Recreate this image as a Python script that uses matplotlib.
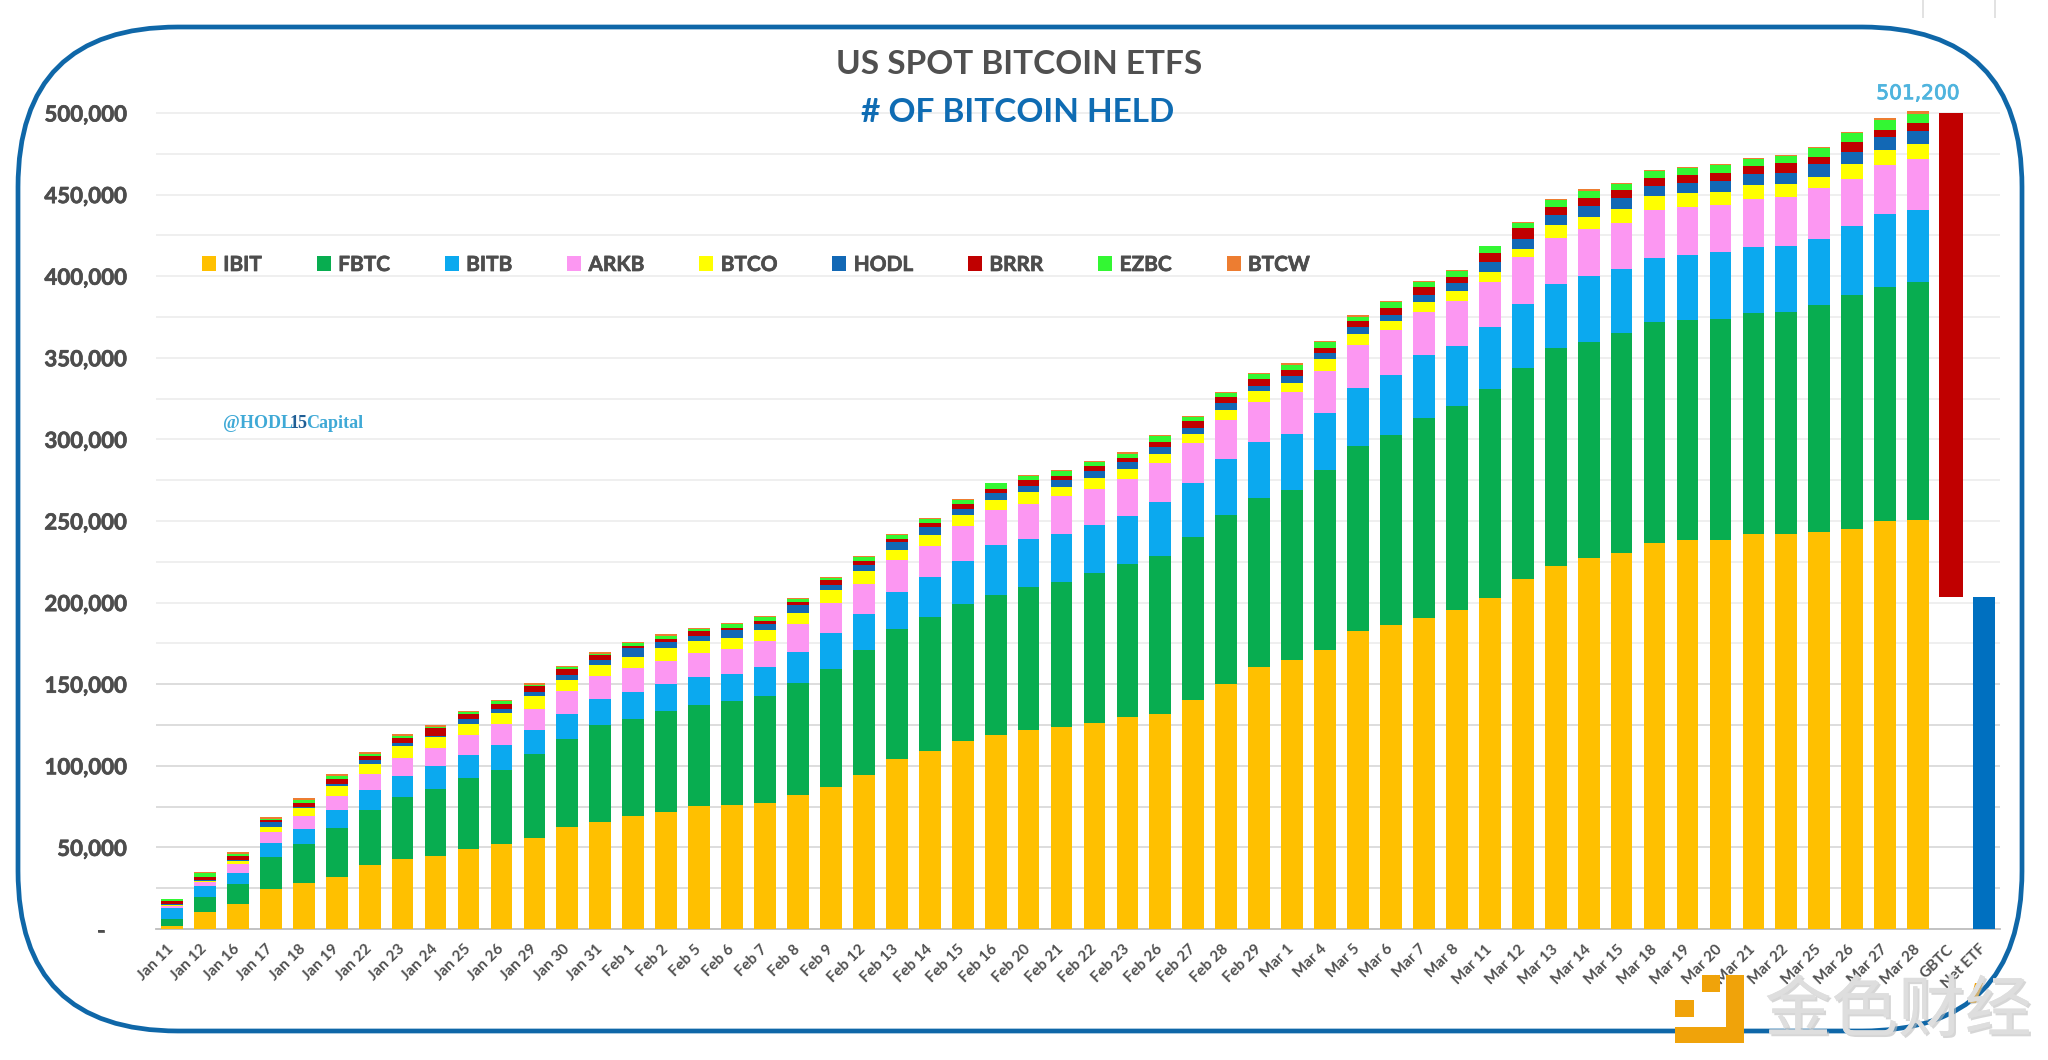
import numpy as np
import matplotlib
matplotlib.use("Agg")
import matplotlib.pyplot as plt
import matplotlib.patheffects as pe
from matplotlib.patches import FancyBboxPatch, Rectangle, Polygon

dates = ["Jan 11","Jan 12","Jan 16","Jan 17","Jan 18","Jan 19","Jan 22","Jan 23","Jan 24","Jan 25","Jan 26",
         "Jan 29","Jan 30","Jan 31","Feb 1","Feb 2","Feb 5","Feb 6","Feb 7","Feb 8","Feb 9","Feb 12","Feb 13",
         "Feb 14","Feb 15","Feb 16","Feb 20","Feb 21","Feb 22","Feb 23","Feb 26","Feb 27","Feb 28","Feb 29",
         "Mar 1","Mar 4","Mar 5","Mar 6","Mar 7","Mar 8","Mar 11","Mar 12","Mar 13","Mar 14","Mar 15","Mar 18",
         "Mar 19","Mar 20","Mar 21","Mar 22","Mar 25","Mar 26","Mar 27","Mar 28"]
extra_labels = ["GBTC", "Net ETF"]

# Running stack totals, thousand BTC (top edge of each fund's segment)
ibit = [2.0,10.6,15.5,24.6,28.4,32.1,39.3,43,45,48.9,51.8,55.7,62.4,65.5,69.4,71.4,75.1,76.1,77.1,82,86.8,94.5,
        104.3,109.3,115,118.9,121.9,124,126,129.7,131.6,140.4,150.2,160.5,165,171,182.5,186.4,190.5,195.2,203,
        214.6,222.4,227.5,230.4,236.3,238.2,238.2,242,242,243,244.9,250,250.8]
fbtc = [6.1,19.8,27.4,44.4,52.2,62,73.2,80.8,85.7,92.5,97.6,107,116.2,124.8,128.9,133.4,137.5,139.5,143,151,159.4,
        171,183.9,191.1,198.9,204.4,209.5,212.6,218,223.5,228.3,240.2,253.5,264.3,268.8,281.1,295.9,302.6,313.4,
        320.4,330.6,343.5,355.8,359.9,365.4,372,373.2,373.8,377.3,378.3,382.6,388.5,393.2,396.5]
bitb = [12.9,26.2,34.2,52.8,61.4,73.2,84.9,93.7,99.6,106.4,112.5,122.1,132,140.8,145.5,150.2,154.3,156.3,160.8,
        169.6,181.5,193.1,206.6,215.6,225.5,235.1,239.2,241.8,247.8,252.9,261.7,273.3,287.9,298.7,303.6,316.1,
        331.6,339.6,351.5,357.2,369.1,383,395.3,400.4,404.3,411,413.1,414.9,417.8,418.8,422.9,430.5,438.3,440.3]
arkb = [14.1,28.6,39.9,59.5,69.2,81.4,95.1,105,111.1,118.7,125.8,135,145.9,154.9,160,164.5,169.2,171.5,176.4,186.6,
        199.7,211.6,225.9,234.5,246.7,257,260.7,265.2,269.9,276,285.6,297.5,311.8,322.7,328.8,342.1,357.8,367,
        378.3,384.9,396.7,411.5,423.3,428.8,432.9,440.7,442.7,443.7,447.5,448.5,454,459.7,468.3,472]
btco = [14.7,29.3,41.5,62.4,74.1,87.8,101.3,112.1,117.6,125.8,132.6,142.6,152.8,162,166.7,172.3,176.4,178.4,183.3,
        193.8,207.5,219.1,232.4,241.6,253.5,263.1,268,270.9,276.5,281.7,291.3,303.2,318,329.6,334.7,349,364.6,
        372.8,384.4,391.2,402.3,416.8,431.1,436.2,441.1,448.9,450.9,451.3,455.7,456.7,461,469,477.1,481.2]
hodl = [15.3,30.1,42.4,65.7,74.7,88.6,103.3,114,118.5,128.7,135,145.3,155.9,164.7,171.9,175.8,179.8,183.3,186.6,
        198.3,210.5,222.8,237.1,246.3,257.6,267.2,271.5,275,280.7,286,295.4,307,322.4,332.7,339,352.7,369.1,
        376.3,388.5,395.7,408.4,422.7,437.2,442.8,447.7,455,457.1,458.3,462.4,463.2,468.5,476.1,485.3,488.8]
brrr = [17,32.1,45,66.9,77.1,91.7,106.2,117.2,123.4,132,137.7,148.7,159.4,167.8,173.3,177.6,182.5,184.5,189,200.1,
        213.6,225.5,239.2,248.8,260.3,269.9,275,277.5,283.8,288.9,298.5,311,325.7,336.8,342.5,356,372.8,380.3,
        393.2,399.8,414.5,429.4,442.1,447.7,453,459.9,461.8,463.2,467.7,469.4,473,482.2,489.8,493.9]
ezbc = [18.2,34.4,46,67.5,79.2,93.7,107.4,118.3,123.8,133,139.7,149.8,160.4,168.8,175,179.8,183.7,186.6,191,202.1,
        215,227.9,241.2,251.3,262.7,273,277.6,280.5,286.2,291.3,302,313.9,328.2,340,345.6,359.5,375.2,384,396.7,
        403.3,418.2,432.9,446.4,451.9,456.7,464.4,466,467.9,471.8,473.8,478.5,487.8,495.5,499.4]
btcw = [18.6,35.2,47,68.5,80.2,94.7,108.4,119.3,124.8,133.8,140.6,150.6,161.4,170,175.8,180.5,184.5,187.4,192,203,
        215.6,228.5,242.2,251.9,263.5,273.5,278.3,281.1,287,292,302.6,314.5,329,340.9,346.6,360.3,376,384.6,397.3,
        404,418.8,433.5,447.2,453.2,457.1,464.9,466.7,468.7,472.6,474.5,479.4,488.4,496.8,501.2]

gbtc_top = 500.0
net_etf = 203.5
total_label = "501,200"

series_names = ["IBIT","FBTC","BITB","ARKB","BTCO","HODL","BRRR","EZBC","BTCW"]
series_colors = ["#FFC000","#08AD50","#0BA9EF","#FC97F2","#FFFF00","#1268B5","#C00000","#33F733","#ED7D31"]
stack_tops = [ibit,fbtc,bitb,arkb,btco,hodl,brrr,ezbc,btcw]

W, H = 2048, 1060
fig = plt.figure(figsize=(W/100, H/100), dpi=100, facecolor="white")
plt.rcParams["font.family"] = ["Lato", "DejaVu Sans"]

# axes box in pixels: x 155.5..2000.5, y baseline 929, 1.632 px per thousand
ymax = 520
base_px = 929
top_px = base_px - ymax*1.632
ax = fig.add_axes([155.5/W, (H-base_px)/H, (2000.5-155.5)/W, (base_px-top_px)/H])
ax.set_facecolor("none")

x = np.arange(len(dates))
prev = np.zeros(len(dates))
for name, col, tops in zip(series_names, series_colors, stack_tops):
    t = np.array(tops, float)
    ax.bar(x, (t-prev)*1000, bottom=prev*1000, width=0.66, color=col, label=name, zorder=3, linewidth=0)
    prev = t

i_g, i_n = len(dates), len(dates)+1
ax.bar(i_g, (gbtc_top-net_etf)*1000, bottom=net_etf*1000, width=0.74, color="#C00000", zorder=3, linewidth=0)
ax.bar(i_n, net_etf*1000, width=0.66, color="#0070C0", zorder=3, linewidth=0)

ax.set_xlim(-0.5, i_n+0.5)
ax.set_ylim(0, ymax*1000)

grid_vals = np.arange(25000, 500001, 25000)
ax.hlines(grid_vals, -0.5, i_n+0.5, colors=["#dadada" if v < 175000 else "#eeeeee" for v in grid_vals],
          lw=1.3, zorder=0)

bold_edge = [pe.withStroke(linewidth=0.5, foreground="#4d4d4d")]
ax.set_yticks(np.arange(0, 500001, 50000))
ax.set_yticklabels(["-    "] + [f"{v:,}" for v in np.arange(50000, 500001, 50000)],
                   fontsize=16, fontweight="bold", color="#4d4d4d")
ax.tick_params(axis="y", length=0, pad=21)
ax.set_xticks(np.arange(i_n+1))
ax.set_xticklabels(dates+extra_labels, rotation=45, ha="right", rotation_mode="anchor", va="center",
                   fontsize=11, fontweight="bold", color="#505050")
ax.tick_params(axis="x", length=0, pad=13)
for lab in ax.get_yticklabels():
    lab.set_path_effects(bold_edge)
for s in ["top","left","right"]:
    ax.spines[s].set_visible(False)
ax.spines["bottom"].set_color("#bdbdbd")
ax.spines["bottom"].set_linewidth(1.3)

t = ax.annotate(total_label, (i_n-2, btcw[-1]*1000), xytext=(0, 12.5), textcoords="offset points",
                ha="center", va="center", fontsize=14.5, color="#4FB4DE", family="DejaVu Sans")
t.set_path_effects([pe.withStroke(linewidth=0.6, foreground="#4FB4DE")])

handles, labels = ax.get_legend_handles_labels()
leg = fig.legend(handles, labels, loc="center left", bbox_to_anchor=(202/W, 1-265/H), bbox_transform=fig.transFigure,
                 ncols=9, frameon=False, borderpad=0, borderaxespad=0, handlelength=0.67,
                 handleheight=0.7, handletextpad=0.35, columnspacing=2.65, labelcolor="#4d4d4d",
                 prop={"weight":"bold","size":15,"family":"Lato"})
for txt in leg.get_texts():
    txt.set_path_effects(bold_edge)

fig.text(1019/W, 1-65/H, "US SPOT BITCOIN ETFS", ha="center", va="center", fontsize=24,
         fontweight="bold", color="#505050")
fig.text(1018/W, 1-113/H, "# OF BITCOIN HELD", ha="center", va="center", fontsize=24,
         fontweight="bold", color="#0F6CB3")

for s, px, c in [("@HODL",223,"#3FA9D6"),("15",290,"#1F5E95"),("Capital",306,"#3FA9D6")]:
    fig.text(px/W, 1-423/H, s, ha="left", va="center", fontsize=13, fontweight="bold",
             color=c, family="Liberation Serif")

# overlay in pixel coordinates: rounded frame, stray marks at the top edge and watermark
ov = fig.add_axes([0,0,1,1], zorder=5)
ov.set_xlim(0, W); ov.set_ylim(H, 0); ov.axis("off"); ov.patch.set_alpha(0)
ov.add_patch(FancyBboxPatch((18,27), 2022-18, 1031-27, boxstyle="round,pad=0,rounding_size=160",
                            fill=False, ec="#0F67A8", lw=3.4))
ov.vlines([1923, 1995], 0, 18, colors="#dddddd", lw=1.2)
logo = "#F0A30A"
for (x0,y0,w,h) in [(1675,1000,19,17),(1702,975,18,17),(1726,975,18,68),(1675,1027,69,16)]:
    ov.add_patch(Rectangle((x0,y0), w, h, fc=logo, ec="none"))
wm = ov.text(1898, 1012, "金色财经", ha="center", va="center", fontsize=48, color="#dedede",
             family=["Noto Sans CJK SC","DejaVu Sans"])
wm.set_path_effects([pe.withSimplePatchShadow(offset=(1.5,-1.5), shadow_rgbFace="#bbbbbb", alpha=0.6), pe.Normal()])
ov.add_patch(Polygon([(1975,983),(1983,983),(1976,1003),(1970,1003)], fc=logo, ec="none"))

fig.savefig("out.png", dpi=100, facecolor="white")
